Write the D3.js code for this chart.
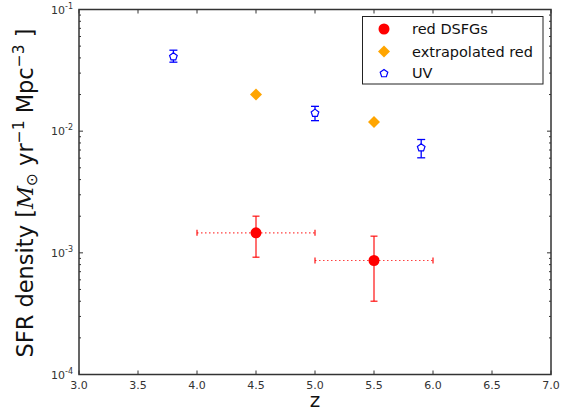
<!DOCTYPE html>
<html><head><meta charset="utf-8">
<script src="https://cdn.jsdelivr.net/npm/d3@7"></script>
<style>body{margin:0;background:#fff;} svg{display:block;}</style>
</head><body>
<script>
// Data
const redZ = [4.5, 5.5];
const redVal = [0.00146, 0.000865];
const redLo = [0.00092, 0.00040];
const redHi = [0.0020, 0.00137];
const redZlo = [4.0, 5.0];
const redZhi = [5.0, 6.0];

const extZ = [4.5, 5.5];
const extVal = [0.0200, 0.0119];

const uvZ = [3.8, 5.0, 5.9];
const uvVal = [0.0413, 0.0142, 0.00738];
const uvLo = [0.0369, 0.0122, 0.00604];
const uvHi = [0.0463, 0.0160, 0.00854];

const xTicks = [3.0, 3.5, 4.0, 4.5, 5.0, 5.5, 6.0, 6.5, 7.0];
const yTickExp = [-4, -3, -2, -1];
const legendLabels = ["red DSFGs", "extrapolated red", "UV"];

const W = 572, H = 411;
const m = {l: 79, r: 21, t: 9.5, b: 36.5};
const svg = d3.select("body").append("svg").attr("width", W).attr("height", H);
const x = d3.scaleLinear().domain([3, 7]).range([m.l, W - m.r]);
const y = d3.scaleLog().domain([1e-4, 1e-1]).range([H - m.b, m.t]);
const frameCol = "#333";
const font = "DejaVu Sans, sans-serif";

// ticks (inward, all four sides)
const tk = svg.append("g").attr("stroke", frameCol).attr("stroke-width", 1);
xTicks.forEach(v => {
  tk.append("line").attr("x1", x(v)).attr("x2", x(v)).attr("y1", y(1e-4)).attr("y2", y(1e-4) - 4);
  tk.append("line").attr("x1", x(v)).attr("x2", x(v)).attr("y1", y(1e-1)).attr("y2", y(1e-1) + 4);
});
yTickExp.forEach(e => {
  const v = Math.pow(10, e);
  tk.append("line").attr("x1", x(3)).attr("x2", x(3) + 4).attr("y1", y(v)).attr("y2", y(v));
  tk.append("line").attr("x1", x(7)).attr("x2", x(7) - 4).attr("y1", y(v)).attr("y2", y(v));
  if (e < -1) {
    for (let k = 2; k <= 9; k++) {
      const mv = k * v;
      tk.append("line").attr("x1", x(3)).attr("x2", x(3) + 2).attr("y1", y(mv)).attr("y2", y(mv));
      tk.append("line").attr("x1", x(7)).attr("x2", x(7) - 2).attr("y1", y(mv)).attr("y2", y(mv));
    }
  }
});

// frame
svg.append("rect").attr("x", x(3)).attr("y", y(1e-1)).attr("width", x(7) - x(3)).attr("height", y(1e-4) - y(1e-1))
  .attr("fill", "none").attr("stroke", frameCol).attr("stroke-width", 1.5);

// tick labels
const lab = svg.append("g").attr("font-family", font).attr("fill", "#333");
xTicks.forEach(v => {
  lab.append("text").attr("x", x(v)).attr("y", y(1e-4) + 14).attr("text-anchor", "middle").attr("font-size", 11).text(v.toFixed(1));
});
yTickExp.forEach(e => {
  const t = lab.append("text").attr("x", x(3) - 6).attr("y", y(Math.pow(10, e)) + 4).attr("text-anchor", "end").attr("font-size", 11);
  t.append("tspan").text("10");
  t.append("tspan").attr("font-size", 8).attr("dy", -5).text(String(e));
});

// axis titles
svg.append("text").attr("x", x(5)).attr("y", 407).attr("text-anchor", "middle").attr("font-family", font).attr("font-size", 20).attr("fill", "#111").text("z");
const yl = svg.append("text").attr("transform", `translate(33,${(y(1e-4)+y(1e-1))/2 + 1}) rotate(-90)`).attr("text-anchor", "middle")
  .attr("font-family", font).attr("font-size", 22.5).attr("fill", "#111");
yl.append("tspan").text("SFR density [");
yl.append("tspan").attr("font-style", "italic").attr("font-family", "DejaVu Serif, serif").text("M");
yl.append("tspan").attr("font-size", 15.5).attr("dy", 4).text("⊙");
yl.append("tspan").attr("dy", -4).text(" yr");
yl.append("tspan").attr("font-size", 15.5).attr("dy", -9).text("−1");
yl.append("tspan").attr("dy", 9).text("  Mpc");
yl.append("tspan").attr("font-size", 15.5).attr("dy", -9).text("−3");
yl.append("tspan").attr("dy", 9).text(" ]");

// red DSFGs
const red = svg.append("g");
const redCol = "red";
redZ.forEach((z, i) => {
  const cx = x(z), cy = y(redVal[i]);
  red.append("line").attr("x1", x(redZlo[i])).attr("x2", x(redZhi[i])).attr("y1", cy).attr("y2", cy)
    .attr("stroke", redCol).attr("stroke-opacity", 0.75).attr("stroke-width", 1.2).attr("stroke-dasharray", "1.5,2.5");
  [redZlo[i], redZhi[i]].forEach(zz => {
    red.append("line").attr("x1", x(zz)).attr("x2", x(zz)).attr("y1", cy - 3).attr("y2", cy + 3)
      .attr("stroke", redCol).attr("stroke-opacity", 0.75).attr("stroke-width", 1.5);
  });
  red.append("line").attr("x1", cx).attr("x2", cx).attr("y1", y(redLo[i])).attr("y2", y(redHi[i]))
    .attr("stroke", redCol).attr("stroke-opacity", 0.75).attr("stroke-width", 1.5);
  [redLo[i], redHi[i]].forEach(v => {
    red.append("line").attr("x1", cx - 3.5).attr("x2", cx + 3.5).attr("y1", y(v)).attr("y2", y(v))
      .attr("stroke", redCol).attr("stroke-opacity", 0.75).attr("stroke-width", 1.5);
  });
  red.append("circle").attr("cx", cx).attr("cy", cy).attr("r", 5.5).attr("fill", redCol);
});

// extrapolated
const diamond = (cx, cy, r) => `M${cx},${cy - r}L${cx + r},${cy}L${cx},${cy + r}L${cx - r},${cy}Z`;
extZ.forEach((z, i) => {
  svg.append("path").attr("d", diamond(x(z), y(extVal[i]), 6)).attr("fill", "orange");
});

// UV
const pent = (cx, cy, r) => {
  const pts = d3.range(5).map(k => {
    const a = -Math.PI / 2 + k * 2 * Math.PI / 5;
    return [cx + r * Math.cos(a), cy + r * Math.sin(a)];
  });
  return "M" + pts.map(p => p.join(",")).join("L") + "Z";
};
uvZ.forEach((z, i) => {
  const cx = x(z), cy = y(uvVal[i]);
  svg.append("line").attr("x1", cx).attr("x2", cx).attr("y1", y(uvLo[i])).attr("y2", y(uvHi[i])).attr("stroke", "blue").attr("stroke-width", 1.3);
  [uvLo[i], uvHi[i]].forEach(v => {
    svg.append("line").attr("x1", cx - 4).attr("x2", cx + 4).attr("y1", y(v)).attr("y2", y(v)).attr("stroke", "blue").attr("stroke-width", 1.3);
  });
  svg.append("path").attr("d", pent(cx, cy + 0.5, 4)).attr("fill", "white").attr("stroke", "blue").attr("stroke-width", 1.2);
});

// legend
const lg = svg.append("g");
lg.append("rect").attr("x", 362.5).attr("y", 16.5).attr("width", 180.5).attr("height", 67.5).attr("fill", "white").attr("stroke", "#222").attr("stroke-width", 1);
const ly = [29, 51.5, 73];
lg.append("circle").attr("cx", 384).attr("cy", ly[0]).attr("r", 5.5).attr("fill", "red");
lg.append("path").attr("d", diamond(384, ly[1], 6)).attr("fill", "orange");
lg.append("path").attr("d", pent(384, ly[2] + 0.5, 4)).attr("fill", "white").attr("stroke", "blue").attr("stroke-width", 1.2);
legendLabels.forEach((t, i) => {
  lg.append("text").attr("x", 412).attr("y", ly[i] + 5).attr("font-family", font).attr("font-size", 14.5).attr("fill", "#111").text(t);
});
</script>
</body></html>
